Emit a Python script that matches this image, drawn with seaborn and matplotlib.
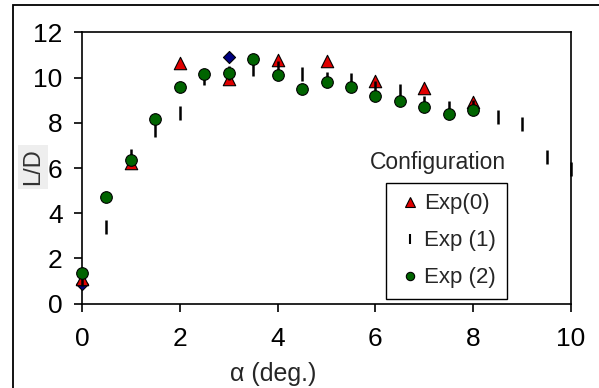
import matplotlib
matplotlib.use("Agg")
import matplotlib.pyplot as plt
import matplotlib.patches as mpatches
from matplotlib.lines import Line2D
import seaborn as sns

# data
alpha_exp0 = [0, 1, 2, 3, 4, 5, 6, 7, 8]
ld_exp0 = [1.1, 6.2, 10.65, 9.92, 10.77, 10.73, 9.85, 9.55, 8.93]

alpha_exp1 = [0, 0.5, 1, 1.5, 2, 2.5, 3, 3.5, 4, 4.5, 5, 5.5, 6, 6.5, 7, 7.5, 8, 8.5, 9, 9.5, 10]
ld_exp1 = [1.1, 3.4, 6.53, 7.68, 8.45, 9.97, 10.2, 10.37, 10.42, 10.14, 9.93, 9.9,
           9.52, 9.39, 8.89, 8.64, 8.7, 8.27, 7.94, 6.48, 5.95]

alpha_exp2 = [0, 0.5, 1, 1.5, 2, 2.5, 3, 3.5, 4, 4.5, 5, 5.5, 6, 6.5, 7, 7.5, 8]
ld_exp2 = [1.34, 4.72, 6.34, 8.17, 9.58, 10.15, 10.21, 10.83, 10.1, 9.48, 9.81,
           9.58, 9.2, 8.97, 8.68, 8.4, 8.56]

alpha_other = [0, 3]
ld_other = [0.86, 10.92]

sns.set_style("white")
plt.rcParams["font.family"] = ["Liberation Sans", "DejaVu Sans"]

fig = plt.figure(figsize=(5.99, 3.88), dpi=100)
ax = fig.add_axes([82 / 599, 1 - 303.7 / 388, 489 / 599, 271.4 / 388])

# figure frame (left and top edges visible)
fig.patches.append(mpatches.Rectangle((12.5 / 599, -0.5), 2, 0.5 + 1 - 5 / 388,
                                      transform=fig.transFigure, fill=False,
                                      edgecolor="black", linewidth=1.3))

sns.scatterplot(x=alpha_other, y=ld_other, marker="D", color="#000080", s=38,
                edgecolor="black", linewidth=0.8, ax=ax, clip_on=False, zorder=3)
sns.scatterplot(x=alpha_exp0, y=ld_exp0, marker="^", color="#e00000", s=80,
                edgecolor="black", linewidth=0.8, ax=ax, clip_on=False, zorder=4)
sns.scatterplot(x=alpha_exp1, y=ld_exp1, marker="|", color="black", s=110,
                linewidth=1.8, ax=ax, clip_on=False, zorder=5)
sns.scatterplot(x=alpha_exp2, y=ld_exp2, marker="o", color="#006400", s=70,
                edgecolor="black", linewidth=0.8, ax=ax, clip_on=False, zorder=6)

ax.set_xlim(0, 10)
ax.set_ylim(0, 12)
ax.set_xticks([0, 2, 4, 6, 8, 10])
ax.set_yticks([0, 2, 4, 6, 8, 10, 12])
for s in ax.spines.values():
    s.set_visible(True)
    s.set_color("black")
    s.set_linewidth(1.2)
ax.tick_params(axis="both", direction="out", length=6, width=1.2, labelsize=19,
               colors="black", left=True, bottom=True)
ax.tick_params(axis="y", pad=8)
ax.tick_params(axis="x", pad=11)
ax.set_xlabel("")
ax.set_ylabel("")

ax.text(0.39, -0.258, "\u03b1 (deg.)", transform=ax.transAxes, ha="center",
        va="center", fontsize=18)
fig.text(33 / 599, 1 - 167 / 388, "L/D", rotation=90, ha="center", va="center",
         fontsize=17, color="#333333",
         bbox=dict(boxstyle="square,pad=0.15", facecolor="#eeeeee", edgecolor="none"))

# legend
handles = [
    Line2D([], [], linestyle="none", marker="^", markersize=6.5, markerfacecolor="#e00000",
           markeredgecolor="black", markeredgewidth=0.8),
    Line2D([], [], linestyle="none", marker="|", markersize=6.5, color="black",
           markeredgewidth=1.5),
    Line2D([], [], linestyle="none", marker="o", markersize=6, markerfacecolor="#006400",
           markeredgecolor="black", markeredgewidth=0.8),
]
leg = ax.legend(handles, ["Exp(0)", "Exp (1)", "Exp (2)"], loc="upper left",
                bbox_to_anchor=((385.7 - 82) / 489, (303.7 - 182.7) / 271.4),
                fontsize=16, frameon=True, fancybox=False, framealpha=1,
                edgecolor="black", handlelength=1.2, handletextpad=0.05,
                labelspacing=0.72, borderpad=0.48, borderaxespad=0)
leg.get_frame().set_linewidth(1.0)
ax.text((438 - 82) / 489, (303.7 - 163) / 271.4, "Configuration", transform=ax.transAxes,
        ha="center", va="center", fontsize=16.5)

fig.savefig("out.png", dpi=100)
